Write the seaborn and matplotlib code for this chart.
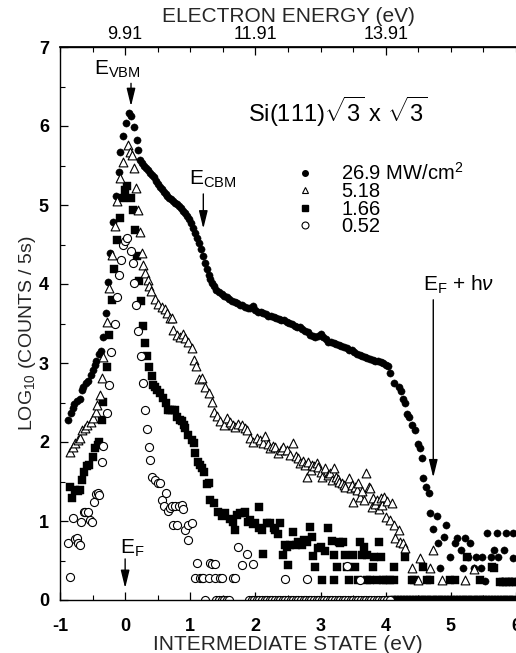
import matplotlib
matplotlib.use("Agg")
import matplotlib.pyplot as plt
import seaborn as sns
from matplotlib.lines import Line2D
from matplotlib.ticker import MultipleLocator

# ---------------------------------------------------------------------------
# Two-photon photoemission spectra of Si(111)sqrt3 x sqrt3 at four pump
# intensities: log10(counts / 5 s) versus intermediate-state energy (eV).
# ---------------------------------------------------------------------------

# 26.9 MW/cm^2 (filled circles)
hi_x = [-0.88, -0.83, -0.80, -0.78, -0.74, -0.70, -0.66, -0.64, -0.60, -0.57,
        -0.53, -0.50, -0.47, -0.45, -0.40, -0.37, -0.34, -0.30, -0.27, -0.23,
        -0.19, -0.14, -0.10, -0.08, -0.04, 0.02, 0.06, 0.09, 0.14, 0.18,
        0.20,
        0.23, 0.26, 0.29, 0.32, 0.35, 0.38, 0.41, 0.44, 0.47, 0.50,
        0.53, 0.56, 0.59, 0.62, 0.65, 0.68, 0.71, 0.74, 0.77, 0.80,
        0.83, 0.86, 0.89, 0.92, 0.95, 0.98, 1.01, 1.04, 1.07, 1.10,
        1.13, 1.16, 1.19, 1.22, 1.25, 1.28, 1.31, 1.34, 1.37, 1.40,
        1.44, 1.48, 1.52, 1.56, 1.60, 1.64, 1.68, 1.72, 1.76, 1.80,
        1.84, 1.88, 1.92, 1.96, 2.00, 2.04, 2.08, 2.12, 2.16, 2.20,
        2.24, 2.28, 2.32, 2.36, 2.40, 2.44, 2.48, 2.52, 2.56, 2.60,
        2.64, 2.68, 2.72, 2.76, 2.80, 2.84, 2.88, 2.92, 2.96, 3.00,
        3.04, 3.08, 3.12, 3.16, 3.20, 3.24, 3.28, 3.32, 3.36, 3.40,
        3.44, 3.48, 3.52, 3.56, 3.60, 3.64, 3.68, 3.72, 3.76, 3.80,
        3.84, 3.88, 3.92, 3.96, 4.00, 4.03,
        4.07, 4.12, 4.20, 4.23, 4.26, 4.30, 4.33, 4.36, 4.41, 4.45,
        4.49, 4.52, 4.56, 4.58, 4.62, 4.66, 4.68, 4.73, 4.79, 4.81,
        4.84, 4.89, 4.93, 4.99, 5.07, 5.10, 5.15, 5.19, 5.22, 5.27,
        5.30, 5.35, 5.38, 5.46, 5.48, 5.53, 5.56, 5.61, 5.66, 5.71,
        5.73, 5.78, 5.81, 5.84, 5.88, 5.93, 5.96, 5.96, 6.00]
hi_y = [2.28, 2.37, 2.43, 2.48, 2.52, 2.55, 2.66, 2.70, 2.75, 2.77,
        2.85, 2.91, 2.97, 3.03, 3.12, 3.15, 3.33, 3.63, 4.03, 4.39,
        4.79, 5.11, 5.42, 5.67, 5.87, 6.04, 6.17, 6.13, 5.99, 5.82,
        5.70,
        5.57, 5.53, 5.50, 5.47, 5.44, 5.41, 5.38, 5.35, 5.31, 5.27,
        5.23, 5.20, 5.17, 5.14, 5.11, 5.09, 5.07, 5.05, 5.03, 5.01,
        4.99, 4.96, 4.93, 4.90, 4.86, 4.82, 4.77, 4.71, 4.65, 4.58,
        4.52, 4.44, 4.35, 4.27, 4.19, 4.12, 4.06, 4.01, 3.97, 3.93,
        3.90, 3.87, 3.85, 3.83, 3.81, 3.79, 3.77, 3.76, 3.74, 3.73,
        3.71, 3.70, 3.69, 3.72, 3.67, 3.65, 3.64, 3.63, 3.62, 3.60,
        3.59, 3.58, 3.57, 3.56, 3.55, 3.54, 3.52, 3.51, 3.50, 3.47,
        3.46, 3.45, 3.43, 3.41, 3.39, 3.36, 3.34, 3.33, 3.34, 3.37,
        3.33, 3.30, 3.27, 3.26, 3.25, 3.24, 3.23, 3.21, 3.20, 3.19,
        3.17, 3.16, 3.14, 3.12, 3.10, 3.09, 3.07, 3.06, 3.05, 3.04,
        3.03, 3.02, 3.01, 3.00, 2.98, 2.96,
        2.87, 2.75, 2.70, 2.64, 2.55, 2.49, 2.35, 2.32, 2.22, 2.15,
        1.97, 1.93, 1.80, 1.54, 1.43, 1.36, 1.10, 0.90, 1.06, 0.72,
        0.41, 0.80, 0.95, 0.54, 0.72, 0.78, 0.63, 0.40, 0.78, 0.54,
        0.72, 0.40, 0.54, 0.41, 0.54, 0.24, 0.85, 0.54, 0.63, 0.85,
        0.54, 0.24, 0.63, 0.85, 0.24, 0.24, 0.85, 0.53, 0.24]

# 5.18 MW/cm^2 (open triangles)
mid_x = [-0.84, -0.80, -0.77, -0.73, -0.70, -0.66, -0.61, -0.58, -0.53, -0.49,
         -0.45, -0.43, -0.38, -0.36, -0.34, -0.28, -0.25, -0.20, -0.15, -0.12,
         -0.08, -0.04, 0.05, 0.08, 0.10, 0.14, 0.17, 0.20, 0.23, 0.26,
         0.28, 0.31, 0.35, 0.37, 0.40, 0.46, 0.51, 0.56, 0.61, 0.65,
         0.69, 0.72, 0.74, 0.79, 0.84, 0.89, 0.92, 0.97, 1.02, 1.05,
         1.09, 1.13, 1.18, 1.23, 1.28, 1.33, 1.36, 1.41, 1.46, 1.51,
         1.56, 1.61, 1.66, 1.69, 1.74, 1.79, 1.84, 1.87, 1.92, 1.97,
         2.02, 2.07, 2.11, 2.15, 2.19, 2.23, 2.27, 2.30, 2.35, 2.39,
         2.43, 2.48, 2.53, 2.58, 2.62, 2.66, 2.69, 2.73, 2.76, 2.79,
         2.81, 2.85, 2.87, 2.90, 2.94, 2.96, 3.00, 3.02, 3.07, 3.11,
         3.15, 3.18, 3.20, 3.23, 3.26, 3.28, 3.33, 3.36, 3.38, 3.43,
         3.46, 3.48, 3.50, 3.53, 3.56, 3.58, 3.61, 3.64, 3.66, 3.70,
         3.74, 3.76, 3.79, 3.81, 3.84, 3.87, 3.90, 3.92, 3.94, 3.97,
         4.00, 4.02, 4.07, 4.10, 4.12, 4.15, 4.20, 4.22, 4.27, 4.30,
         4.40, 4.50, 4.53, 4.68, 4.73, 4.86, 5.22, 5.35]
mid_y = [1.87, 1.94, 1.99, 2.02, 2.05, 2.15, 2.18, 2.22, 2.25, 2.31,
         2.38, 2.47, 2.60, 2.81, 3.08, 3.52, 3.95, 4.37, 4.73, 5.05,
         5.34, 5.55, 5.76, 5.67, 5.63, 5.47, 5.21, 4.94, 4.66, 4.39,
         4.24, 4.14, 4.05, 3.97, 3.91, 3.81, 3.75, 3.71, 3.68, 3.63,
         3.57, 3.57, 3.42, 3.35, 3.33, 3.37, 3.32, 3.27, 3.19, 3.04,
         2.96, 2.80, 2.81, 2.70, 2.62, 2.51, 2.38, 2.33, 2.26, 2.22,
         2.30, 2.25, 2.21, 2.19, 2.23, 2.21, 2.18, 2.15, 2.05, 2.00,
         2.05, 2.02, 1.99, 2.07, 1.97, 1.92, 1.95, 1.94, 1.86, 1.90,
         1.94, 1.90, 1.83, 1.99, 1.82, 1.80, 1.73, 1.76, 1.71, 1.56,
         1.75, 1.64, 1.71, 1.69, 1.73, 1.68, 1.62, 1.56, 1.67, 1.58,
         1.61, 1.52, 1.67, 1.56, 1.53, 1.50, 1.48, 1.46, 1.43, 1.54,
         1.42, 1.46, 1.24, 1.43, 1.39, 1.48, 1.30, 1.38, 1.27, 1.61,
         1.43, 1.42, 1.18, 1.29, 1.22, 1.27, 1.15, 1.29, 1.20, 1.30,
         1.05, 1.25, 1.01, 1.23, 0.95, 0.79, 0.89, 0.73, 0.72, 0.66,
         0.40, 0.25, 0.53, 0.40, 0.63, 0.25, 0.25, 0.39]

# 1.66 MW/cm^2 (filled squares)
low_x = [-0.84, -0.81, -0.77, -0.73, -0.70, -0.66, -0.63, -0.59, -0.55, -0.49,
         -0.46, -0.42, -0.40, -0.36, -0.34, -0.28, -0.25, -0.20, -0.17, -0.12,
         -0.08, -0.04, 0.00, 0.03, 0.09, 0.12, 0.15, 0.18, 0.22, 0.25,
         0.28, 0.31, 0.34, 0.37, 0.41, 0.43, 0.46, 0.49, 0.54, 0.58,
         0.63, 0.66, 0.69, 0.72, 0.77, 0.80, 0.84, 0.87, 0.90, 0.92,
         0.97, 1.02, 1.05, 1.08, 1.12, 1.15, 1.18, 1.21, 1.25, 1.28,
         1.31, 1.36, 1.43, 1.48, 1.54, 1.61, 1.66, 1.69, 1.72, 1.77,
         1.82, 1.84, 1.89, 1.92, 1.97, 2.00, 2.05, 2.05, 2.10, 2.12,
         2.18, 2.23, 2.28, 2.30, 2.35, 2.38, 2.43, 2.46, 2.48, 2.50,
         2.53, 2.58, 2.62, 2.66, 2.71, 2.74, 2.79, 2.84, 2.87, 2.89,
         2.92, 2.96, 3.00, 3.02, 3.07, 3.12, 3.17, 3.20, 3.20, 3.25,
         3.28, 3.30, 3.35, 3.38, 3.40, 3.43, 3.50, 3.53, 3.58, 3.61,
         3.64, 3.66, 3.71, 3.71, 3.76, 3.81, 3.82, 3.86, 3.89, 3.92,
         3.96, 4.01, 4.06, 4.12, 4.12, 4.30, 4.40, 4.43, 4.58, 4.63,
         4.68, 4.99, 5.07, 5.25, 5.45, 5.63, 5.66, 5.75, 5.80, 5.85,
         5.90, 5.95, 6.00,
         4.10, 4.15, 4.19, 4.24, 4.28, 4.33, 4.37, 4.42, 4.46, 4.51,
         4.55, 4.60, 4.64, 4.69, 4.73, 4.78, 4.82, 4.87, 4.91, 4.96,
         5.00, 5.05, 5.09, 5.14, 5.18, 5.23, 5.27, 5.32, 5.36, 5.41,
         5.45, 5.50, 5.54, 5.59, 5.63, 5.68, 5.72, 5.77, 5.81, 5.86,
         5.90, 5.95, 5.99]
low_y = [1.43, 1.29, 1.39, 1.38, 1.39, 1.52, 1.62, 1.69, 1.71, 1.81,
         1.92, 1.96, 2.00, 2.28, 2.51, 2.95, 3.35, 3.80, 4.19, 4.56,
         4.83, 5.09, 5.19, 5.24, 5.09, 4.94, 4.68, 4.35, 4.04, 3.78,
         3.47, 3.25, 3.09, 2.95, 2.84, 2.72, 2.69, 2.66, 2.62, 2.56,
         2.49, 2.41, 2.41, 2.41, 2.40, 2.32, 2.28, 2.26, 2.21, 2.18,
         2.09, 2.03, 1.99, 1.86, 1.75, 1.71, 1.67, 1.62, 1.47, 1.48,
         1.27, 1.23, 1.12, 1.06, 1.10, 1.02, 0.99, 0.89, 1.08, 1.10,
         1.10, 1.12, 0.99, 1.01, 0.96, 0.97, 1.18, 0.91, 0.89, 0.58,
         0.98, 0.97, 0.91, 0.89, 0.84, 0.97, 0.57, 0.70, 0.67, 0.44,
         0.70, 0.86, 0.70, 0.74, 0.70, 0.76, 0.74, 0.92, 0.80, 0.56,
         0.42, 0.66, 0.67, 0.25, 0.62, 0.91, 0.75, 0.57, 0.25, 0.42,
         0.74, 0.72, 0.74, 0.57, 0.42, 0.25, 0.57, 0.42, 0.25, 0.74,
         0.57, 0.67, 0.57, 0.25, 0.25, 0.42, 0.55, 0.25, 0.74, 0.55,
         0.25, 0.25, 0.25, 0.42, 0.25, 0.55, 0.25, 0.25, 0.42, 0.25,
         0.25, 0.25, 0.25, 0.54, 0.25, 0.42, 0.41, 0.23, 0.23, 0.23,
         0.23, 0.23, 0.23,
         0.0, 0.0, 0.0, 0.0, 0.0, 0.0, 0.0, 0.0, 0.0, 0.0,
         0.0, 0.0, 0.0, 0.0, 0.0, 0.0, 0.0, 0.0, 0.0, 0.0,
         0.0, 0.0, 0.0, 0.0, 0.0, 0.0, 0.0, 0.0, 0.0, 0.0,
         0.0, 0.0, 0.0, 0.0, 0.0, 0.0, 0.0, 0.0, 0.0, 0.0,
         0.0, 0.0, 0.0]

# 0.52 MW/cm^2 (open circles)
min_x = [-0.87, -0.84, -0.80, -0.77, -0.74, -0.72, -0.69, -0.67, -0.63, -0.61,
         -0.57, -0.54, -0.51, -0.48, -0.44, -0.42, -0.40, -0.36, -0.34, -0.28,
         -0.25, -0.21, -0.16, -0.13, -0.09, -0.06, -0.03, 0.00, 0.03, 0.09,
         0.12, 0.14, 0.17, 0.20, 0.24, 0.27, 0.31, 0.33, 0.36, 0.38,
         0.41, 0.46, 0.50, 0.54, 0.56, 0.59, 0.63, 0.66, 0.69, 0.72,
         0.74, 0.77, 0.80, 0.82, 0.87, 0.89, 0.92, 0.96, 0.97, 1.02,
         1.08, 1.10, 1.15, 1.18, 1.20, 1.28, 1.31, 1.33, 1.38, 1.38,
         1.46, 1.49, 1.66, 1.69, 1.74, 1.79, 1.87, 1.97, 2.46, 2.79,
         3.40, 3.61,
         1.22, 1.40, 1.44, 1.48, 1.52, 1.56, 1.60, 1.90, 1.94, 1.98,
         2.02, 2.06, 2.10, 2.14, 2.18, 2.22, 2.26, 2.30, 2.34, 2.38,
         2.42, 2.46, 2.50, 2.54, 2.58, 2.62, 2.66, 2.70, 2.74, 2.78,
         2.82, 2.86, 2.90, 2.94, 2.98, 3.02, 3.06, 3.10, 3.14, 3.18,
         3.22, 3.26, 3.30, 3.34, 3.38, 3.42, 3.46, 3.50, 3.54, 3.58,
         3.62, 3.66, 3.70, 3.74, 3.78, 3.82, 3.86, 3.90, 3.94, 3.98,
         4.02, 4.06]
min_y = [0.72, 0.29, 1.04, 0.77, 0.78, 0.72, 0.70, 0.99, 1.11, 1.12,
         1.12, 1.01, 0.99, 1.24, 1.34, 1.35, 1.33, 1.75, 1.95, 2.37,
         2.72, 3.14, 3.50, 3.84, 4.11, 4.31, 4.49, 4.54, 4.58, 4.42,
         4.26, 4.01, 3.73, 3.40, 3.09, 2.75, 2.40, 2.16, 1.94, 1.77,
         1.56, 1.52, 1.48, 1.48, 1.27, 1.19, 1.35, 1.13, 1.16, 1.19,
         0.95, 1.19, 0.95, 1.19, 1.20, 1.15, 0.89, 0.76, 0.95, 0.98,
         0.28, 0.47, 0.28, 0.28, 0.28, 0.28, 0.47, 0.46, 0.46, 0.28,
         0.28, 0.28, 0.28, 0.28, 0.67, 0.44, 0.58, 0.45, 0.27, 0.26,
         0.43, 0.25,
         0.0, 0.0, 0.0, 0.0, 0.0, 0.0, 0.0, 0.0, 0.0, 0.0,
         0.0, 0.0, 0.0, 0.0, 0.0, 0.0, 0.0, 0.0, 0.0, 0.0,
         0.0, 0.0, 0.0, 0.0, 0.0, 0.0, 0.0, 0.0, 0.0, 0.0,
         0.0, 0.0, 0.0, 0.0, 0.0, 0.0, 0.0, 0.0, 0.0, 0.0,
         0.0, 0.0, 0.0, 0.0, 0.0, 0.0, 0.0, 0.0, 0.0, 0.0,
         0.0, 0.0, 0.0, 0.0, 0.0, 0.0, 0.0, 0.0, 0.0, 0.0,
         0.0, 0.0]

series_labels = [r"26.9 MW/cm$^2$", "5.18", "1.66", "0.52"]

x_ticks = [-1, 0, 1, 2, 3, 4, 5, 6]
x_tick_labels = ["-1", "0", "1", "2", "3", "4", "5", "6"]
y_ticks = [0, 1, 2, 3, 4, 5, 6, 7]
top_ticks = [0, 2, 4]
top_tick_labels = ["9.91", "11.91", "13.91"]

# ---------------------------------------------------------------------------
sns.set_theme(style="ticks")
plt.rcParams["font.family"] = ["Liberation Sans", "DejaVu Sans"]
plt.rcParams["mathtext.fontset"] = "custom"
plt.rcParams["mathtext.rm"] = "Liberation Sans"
plt.rcParams["mathtext.it"] = "Liberation Sans:italic"
plt.rcParams["mathtext.bf"] = "Liberation Sans:bold"
plt.rcParams["axes.edgecolor"] = "black"
plt.rcParams["text.color"] = "black"
plt.rcParams["xtick.color"] = "black"
plt.rcParams["ytick.color"] = "black"

fig = plt.figure(figsize=(5.16, 6.53), dpi=100)
ax = fig.add_axes([60 / 516, 53 / 653, 456 / 516, 553 / 653])

filled = dict(color="black", edgecolor="black", linewidth=0.3)
hollow = dict(color="white", edgecolor="black", linewidth=0.8)

sns.scatterplot(x=hi_x, y=hi_y, marker="o", s=27, ax=ax, zorder=3, **filled)
sns.scatterplot(x=low_x, y=low_y, marker="s", s=28, ax=ax, zorder=3, **filled)
sns.scatterplot(x=mid_x, y=mid_y, marker="^", s=40, ax=ax, zorder=4, **hollow)
sns.scatterplot(x=min_x, y=min_y, marker="o", s=34, ax=ax, zorder=4, **hollow)

ax.set_xlim(-1, 6)
ax.set_ylim(0, 7)
ax.spines["right"].set_visible(False)
for side in ("left", "bottom", "top"):
    ax.spines[side].set_linewidth(1.0)
    ax.spines[side].set_zorder(6)

ax.set_xticks(x_ticks)
ax.set_xticklabels(x_tick_labels, fontweight="bold")
ax.set_yticks(y_ticks)
ax.set_yticklabels([str(v) for v in y_ticks], fontweight="bold")
ax.xaxis.set_minor_locator(MultipleLocator(0.5))
ax.yaxis.set_minor_locator(MultipleLocator(0.5))
ax.tick_params(which="both", direction="in", top=False, right=False)
ax.tick_params(which="major", length=6, width=0.9)
ax.tick_params(which="minor", length=3.5, width=0.8)
ax.tick_params(axis="x", pad=13, labelsize=13)
ax.tick_params(axis="y", pad=8, labelsize=13)

ax.set_xlabel("INTERMEDIATE STATE (eV)", fontsize=15, labelpad=0)
ax.set_ylabel(r"LOG$_{10}$ (COUNTS / 5s)", fontsize=14)
ax.yaxis.set_label_coords(-0.049, 0.483)

top = ax.secondary_xaxis("top")
top.set_xticks(top_ticks)
top.set_xticklabels(top_tick_labels)
top.xaxis.set_minor_locator(MultipleLocator(0.5))
top.tick_params(which="both", direction="in", labelsize=13, pad=3)
top.tick_params(which="major", length=6, width=0.9)
top.tick_params(which="minor", length=3.5, width=0.8)
top.set_xlabel("ELECTRON ENERGY (eV)", fontsize=15, labelpad=3)

# Annotations for band edges and the Fermi level
arrow = dict(arrowstyle="-|>,head_length=0.9,head_width=0.22", color="black",
             lw=1.0, shrinkA=0, shrinkB=0)
ax.annotate("", xy=(0.09, 6.25), xytext=(0.09, 6.54), arrowprops=arrow)
ax.text(-0.12, 6.72, r"E$_{\rm VBM}$", fontsize=15, ha="center", va="center")

ax.annotate("", xy=(1.20, 4.70), xytext=(1.20, 5.14), arrowprops=arrow)
ax.text(1.35, 5.32, r"E$_{\rm CBM}$", fontsize=15, ha="center", va="center")

ax.annotate("", xy=(4.73, 1.55), xytext=(4.73, 3.80), arrowprops=arrow)
ax.text(5.12, 3.99, r"E$_{\rm F}$ + h$\nu$", fontsize=15, ha="center", va="center")

ax.annotate("", xy=(0.0, 0.15), xytext=(0.0, 0.52), arrowprops=arrow)
ax.text(0.11, 0.65, r"E$_{\rm F}$", fontsize=15, ha="center", va="center")

ax.text(4.64, 6.18, r"Si(111)$\sqrt{3}$ x $\sqrt{3}$", fontsize=17,
        ha="right", va="center")

handles = [
    Line2D([], [], ls="none", marker="o", color="black", markersize=4),
    Line2D([], [], ls="none", marker="^", mfc="white", mec="black", mew=0.8, markersize=5),
    Line2D([], [], ls="none", marker="s", color="black", markersize=4.5),
    Line2D([], [], ls="none", marker="o", mfc="white", mec="black", mew=0.8, markersize=5),
]
ax.legend(handles, series_labels, loc="upper left", bbox_to_anchor=(0.515, 0.792),
          frameon=False, fontsize=14.5, handlelength=1.0, handletextpad=1.3,
          labelspacing=-0.08, borderpad=0, borderaxespad=0)

fig.savefig("out.png", dpi=100)
